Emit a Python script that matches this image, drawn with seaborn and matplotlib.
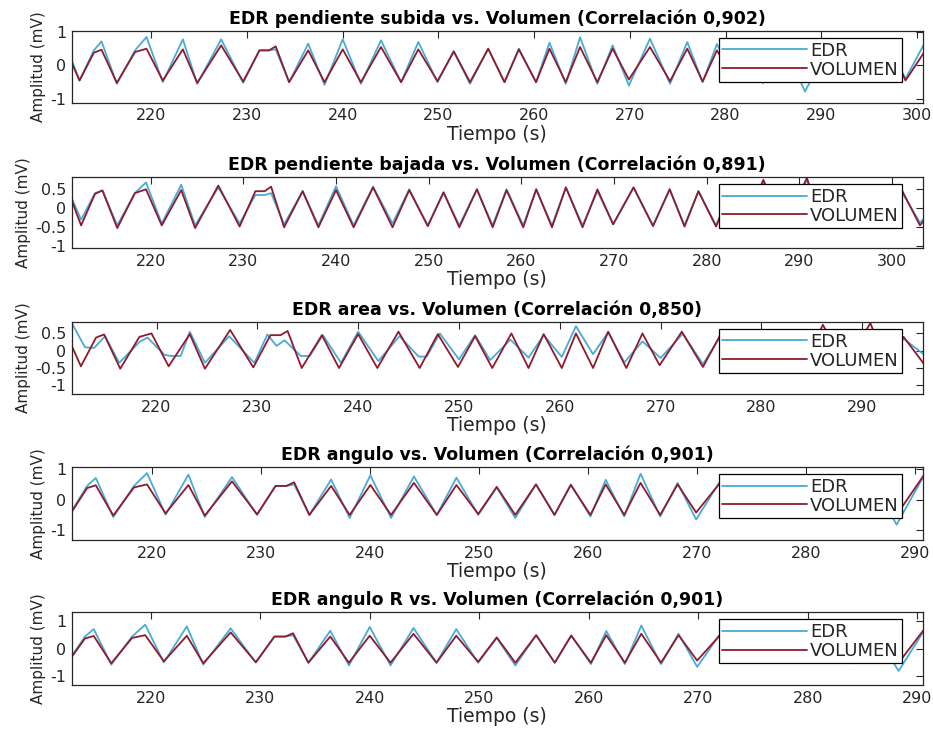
import matplotlib
matplotlib.use("Agg")
import matplotlib.pyplot as plt
import seaborn as sns

# VOLUMEN (same respiration signal in every panel): key points
vol_t = [211.5, 212.5, 214.0, 214.8, 216.4, 218.3, 219.5, 221.2, 223.3, 224.8,
         227.3, 229.6, 231.3, 232.3, 233.0, 234.4, 236.4, 238.1, 240.0, 241.9,
         244.0, 246.1, 247.9, 249.9, 251.6, 253.3, 255.2, 256.9, 258.4, 260.2,
         261.6, 263.3, 264.8, 266.6, 268.2, 269.9, 272.1, 274.2, 276.0, 277.6,
         279.1, 281.0, 282.5, 283.9, 286.1, 288.3, 290.8, 292.5, 294.1, 296.3,
         297.6, 298.8, 301.0, 303.0, 303.5]
vol_v = [0.2, -0.45, 0.38, 0.47, -0.52, 0.4, 0.5, -0.45, 0.48, -0.52,
         0.6, -0.48, 0.45, 0.45, 0.57, -0.5, 0.45, -0.5, 0.48, -0.5,
         0.55, -0.5, 0.48, -0.47, 0.42, -0.5, 0.5, -0.5, 0.48, -0.5,
         0.5, -0.5, 0.55, -0.5, 0.5, -0.42, 0.55, -0.47, 0.5, -0.48,
         0.45, -0.48, 0.4, -0.52, 0.75, -0.5, 0.8, -0.45, 0.4, -0.45,
         0.3, -0.45, 0.5, -0.45, -0.3]

# EDR series (panels 1, 2, 4, 5 share the VOLUMEN time points)
edr_subida = [0.3, -0.45, 0.45, 0.72, -0.55, 0.45, 0.85, -0.5, 0.78, -0.55,
              0.78, -0.52, 0.45, 0.45, 0.48, -0.5, 0.65, -0.58, 0.78, -0.55,
              0.75, -0.5, 0.7, -0.5, 0.42, -0.55, 0.5, -0.5, 0.5, -0.5,
              0.68, -0.55, 0.84, -0.55, 0.6, -0.6, 0.8, -0.55, 0.7, -0.5,
              0.64, -0.5, 0.4, -0.5, 0.6, -0.78, 0.6, -0.45, 0.4, -0.45,
              0.3, -0.4, 0.78, -0.45, -0.3]
edr_bajada = [0.26, -0.3, 0.4, 0.47, -0.45, 0.4, 0.68, -0.4, 0.62, -0.45,
              0.55, -0.4, 0.35, 0.35, 0.4, -0.42, 0.45, -0.45, 0.58, -0.45,
              0.57, -0.4, 0.5, -0.45, 0.42, -0.45, 0.5, -0.45, 0.5, -0.45,
              0.5, -0.45, 0.55, -0.45, 0.45, -0.42, 0.55, -0.45, 0.5, -0.45,
              0.45, -0.45, 0.4, -0.5, 0.7, -0.45, 0.75, -0.45, 0.4, -0.4,
              0.3, -0.4, 0.45, -0.38, -0.25]
edr_angulo = [-0.3, -0.42, 0.45, 0.71, -0.57, 0.45, 0.87, -0.49, 0.82, -0.57,
              0.74, -0.5, 0.45, 0.45, 0.5, -0.5, 0.66, -0.6, 0.8, -0.6,
              0.76, -0.5, 0.72, -0.5, 0.4, -0.6, 0.5, -0.5, 0.5, -0.55,
              0.65, -0.55, 0.85, -0.55, 0.55, -0.65, 0.6, -0.5, 0.6, -0.5,
              0.6, -0.5, 0.5, -0.5, 0.6, -0.82, 0.78, -0.45, 0.4, -0.45,
              0.3, -0.4, 0.5, -0.45, -0.3]
edr_angulo_r = [-0.3, -0.42, 0.45, 0.72, -0.57, 0.45, 0.88, -0.49, 0.82, -0.57,
                0.75, -0.5, 0.45, 0.45, 0.5, -0.5, 0.66, -0.6, 0.8, -0.6,
                0.76, -0.5, 0.72, -0.5, 0.4, -0.6, 0.5, -0.5, 0.5, -0.55,
                0.65, -0.55, 0.85, -0.55, 0.55, -0.65, 0.6, -0.5, 0.6, -0.5,
                0.6, -0.5, 0.5, -0.5, 0.6, -0.8, 0.78, -0.45, 0.4, -0.45,
                0.3, -0.4, 0.5, -0.45, -0.3]

# EDR area has its own shape
area_t = [211.6, 212.9, 213.8, 214.9, 216.3, 218.3, 219.1, 220.8, 221.4, 222.4,
          223.3, 224.8, 227.2, 229.7, 231.0, 231.9, 232.7, 234.3, 235.2, 236.5,
          238.3, 240.0, 242.0, 244.1, 246.0, 246.8, 248.1, 250.0, 251.6, 253.1,
          255.1, 256.9, 258.4, 260.2, 261.6, 263.3, 264.8, 266.4, 268.2, 270.0,
          272.2, 274.2, 276.0, 277.6, 279.1, 281.0, 282.5, 283.9, 286.1, 288.3,
          290.8, 292.5, 294.1, 296.3]
area_v = [0.8, 0.1, 0.08, 0.42, -0.35, 0.25, 0.38, -0.12, -0.15, -0.15,
          0.55, -0.35, 0.42, -0.35, 0.47, 0.14, 0.3, -0.15, -0.15, 0.45,
          -0.35, 0.55, -0.3, 0.42, -0.17, -0.17, 0.5, -0.25, 0.45, -0.27,
          0.32, -0.2, 0.45, -0.18, 0.71, -0.1, 0.53, -0.34, 0.27, -0.21,
          0.49, -0.39, 0.45, -0.3, 0.4, -0.3, 0.35, -0.3, 0.6, -0.3,
          0.6, -0.3, 0.35, -0.15]

titles = ["EDR pendiente subida vs. Volumen (Correlación 0,902)",
          "EDR pendiente bajada vs. Volumen (Correlación 0,891)",
          "EDR area vs. Volumen (Correlación 0,850)",
          "EDR angulo vs. Volumen (Correlación 0,901)",
          "EDR angulo R vs. Volumen (Correlación 0,901)"]
edr_times = [vol_t, vol_t, area_t, vol_t, vol_t]
edr_values = [edr_subida, edr_bajada, area_v, edr_angulo, edr_angulo_r]
xlims = [(211.7, 300.6), (211.5, 303.3), (211.6, 296.0), (212.6, 290.7), (212.8, 290.5)]
ylims = [(-1.12, 1.03), (-1.05, 0.82), (-1.25, 0.83), (-1.32, 1.07), (-1.31, 1.34)]
yticks = [[-1, 0, 1], [-1, -0.5, 0, 0.5], [-1, -0.5, 0, 0.5], [-1, 0, 1], [-1, 0, 1]]
bottoms = [0.859, 0.660, 0.4603, 0.2603, 0.0616]
heights = [0.0986, 0.0973, 0.0986, 0.100, 0.100]

EDR_COLOR = "#4aaad6"
VOL_COLOR = "#8e1b2e"
TXT = "#262626"

sns.set_style("white")
plt.rcParams['font.family'] = ['DejaVu Sans']

fig = plt.figure(figsize=(9.33, 7.3), dpi=100)

for i in range(5):
    ax = fig.add_axes([0.077, bottoms[i], 0.912, heights[i]])
    sns.lineplot(x=edr_times[i], y=edr_values[i], ax=ax, color=EDR_COLOR,
                 linewidth=1.3, label="EDR", sort=False, estimator=None)
    sns.lineplot(x=vol_t, y=vol_v, ax=ax, color=VOL_COLOR,
                 linewidth=1.3, label="VOLUMEN", sort=False, estimator=None)
    for line in ax.lines:
        line.set_solid_joinstyle("round")
    ax.set_xlim(*xlims[i])
    ax.set_ylim(*ylims[i])
    ax.set_xticks(range(220, int(xlims[i][1]) + 1, 10))
    ax.set_yticks(yticks[i])
    ax.set_yticklabels([("%g" % v) for v in yticks[i]])
    ax.tick_params(direction="in", length=5, width=0.8, top=True, right=True,
                   labelsize=11.5, colors=TXT, pad=4)
    for s in ax.spines.values():
        s.set_color(TXT)
        s.set_linewidth(0.9)
    ax.set_title(titles[i], fontsize=12.5, fontweight="bold", color="black", pad=5)
    ax.set_xlabel("Tiempo (s)", fontsize=13.5, color=TXT, labelpad=1)
    ax.set_ylabel("Amplitud (mV)", fontsize=11, color=TXT, labelpad=3)
    leg = ax.legend(loc="upper right", bbox_to_anchor=(0.976, 0.9), borderaxespad=0,
                    frameon=True, fancybox=False, edgecolor="black", framealpha=1,
                    fontsize=13, handlelength=4.7, handletextpad=0.15,
                    labelspacing=0.05, borderpad=0.2)
    leg.get_frame().set_linewidth(0.9)

fig.savefig("out.png", dpi=100)
